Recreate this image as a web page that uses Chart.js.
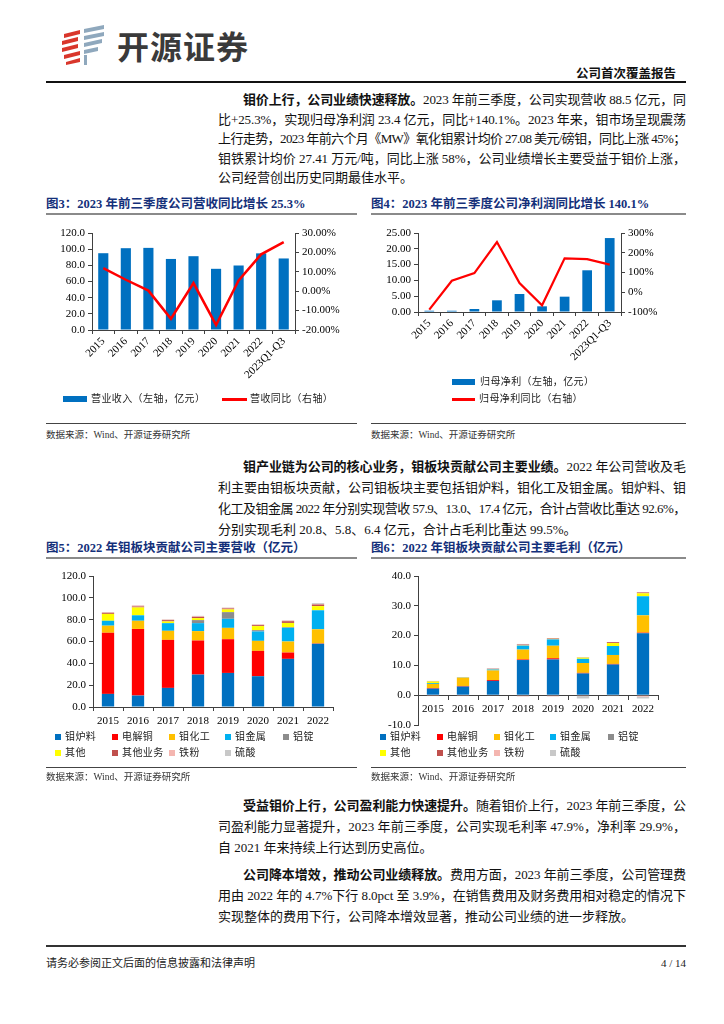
<!DOCTYPE html>
<html>
<head>
<meta charset="utf-8">
<script src="https://cdn.jsdelivr.net/npm/chart.js@4.4.0/dist/chart.umd.min.js"></script>
<style>
    body { margin: 0; background: #fff; }
    .page { position: relative; width: 724px; height: 1024px; overflow: hidden;
        font-family: "Liberation Serif", "Noto Sans CJK SC", serif; color: #111; }
    .abs { position: absolute; }
    .ln { position: absolute; left: 218px; width: 468px; font-size: 13px; line-height: 16px; white-space: nowrap; }
    .ln.ind { left: 243px; width: 443px; }
    .ln b { font-weight: 700; }
    .title { position: absolute; font-size: 12.5px; line-height: 16px; font-weight: 700; color: #14307a; white-space: nowrap; }
    .uline { position: absolute; height: 2px; background: #8a8a8a; }
    .sline { position: absolute; height: 1px; background: #444; }
    .src { position: absolute; font-size: 9.5px; line-height: 12px; color: #333; white-space: nowrap; }
    .leg { position: absolute; font-size: 10px; line-height: 12px; color: #222; white-space: nowrap; letter-spacing: 0.4px; }
    .sw { position: absolute; }
    canvas { position: absolute; }
</style>
</head>
<body>
<div class="page">
    <!-- logo -->
    <svg class="abs" style="left:58px;top:24px" width="56" height="42">
        <g fill="#d9362b">
            <polygon points="6,10 22,6 22,10 6,14"/>
            <polygon points="4,17 20,13 20,17 4,21"/>
            <polygon points="4,24 20,20 20,24 4,28"/>
            <polygon points="6,31 22,27 22,31 6,35"/>
            <polygon points="8,38 22,34 22,38 8,41"/>
        </g>
        <g fill="#8fa8bd">
            <polygon points="26,5 46,1 46,5 26,9"/>
            <polygon points="26,12 46,8 46,12 26,16"/>
            <polygon points="26,19 44,15 44,19 26,23"/>
            <polygon points="26,26 40,23 40,27 26,30"/>
            <polygon points="26,31 29,31 29,41 26,41"/>
        </g>
    </svg>
    <div class="abs" style="left:117px;top:26px;font-family:'Noto Sans CJK SC';font-weight:700;font-size:32px;line-height:38px;color:#3a3a3a;letter-spacing:1px">开源证券</div>

    <div class="abs" style="left:560px;width:116px;top:65px;text-align:right;font-family:'Noto Sans CJK SC';font-weight:700;font-size:12.5px;line-height:16px">公司首次覆盖报告</div>
    <div class="abs" style="left:46px;top:81px;width:640px;height:2px;background:#111"></div>

    <!-- paragraph 1 -->
    <div class="ln ind j" style="top:92px"><span><b>钼价上行，公司业绩快速释放。</b>2023 年前三季度，公司实现营收 88.5 亿元，同</span></div>
    <div class="ln j" style="top:111.5px"><span>比+25.3%，实现归母净利润 23.4 亿元，同比+140.1%。2023 年来，钼市场呈现震荡</span></div>
    <div class="ln j" style="top:131px"><span>上行走势，2023 年前六个月《MW》氧化钼累计均价 27.08 美元/磅钼，同比上涨 45%；</span></div>
    <div class="ln j" style="top:150.5px"><span>钼铁累计均价 27.41 万元/吨，同比上涨 58%，公司业绩增长主要受益于钼价上涨，</span></div>
    <div class="ln" style="top:170px"><span>公司经营创出历史同期最佳水平。</span></div>

    <!-- figure 3 / 4 -->
    <div class="title" style="left:46px;top:196px">图3：2023 年前三季度公司营收同比增长 25.3%</div>
    <div class="uline" style="left:46px;top:213px;width:311px"></div>
    <div class="title" style="left:371px;top:196px">图4：2023 年前三季度公司净利润同比增长 140.1%</div>
    <div class="uline" style="left:371px;top:213px;width:315px"></div>

    <canvas id="c3" width="311" height="175" style="left:46px;top:218px"></canvas>
    <canvas id="c4" width="315" height="155" style="left:371px;top:218px"></canvas>

    <div class="sw" style="left:63px;top:396px;width:24px;height:6px;background:#0070C0"></div>
    <div class="leg" style="left:91px;top:393px">营业收入（左轴，亿元）</div>
    <div class="sw" style="left:222px;top:398px;width:25px;height:2.5px;background:#FF0000"></div>
    <div class="leg" style="left:250px;top:393px">营收同比（右轴）</div>

    <div class="sw" style="left:452px;top:379px;width:23px;height:6px;background:#0070C0"></div>
    <div class="leg" style="left:480px;top:376px">归母净利（左轴，亿元）</div>
    <div class="sw" style="left:452px;top:398px;width:23px;height:2.5px;background:#FF0000"></div>
    <div class="leg" style="left:479px;top:393px">归母净利同比（右轴）</div>

    <div class="sline" style="left:46px;top:423px;width:311px"></div>
    <div class="sline" style="left:371px;top:423px;width:315px"></div>
    <div class="src" style="left:46px;top:429px">数据来源：Wind、开源证券研究所</div>
    <div class="src" style="left:371px;top:429px">数据来源：Wind、开源证券研究所</div>

    <!-- paragraph 2 -->
    <div class="ln ind j" style="top:459px"><span><b>钼产业链为公司的核心业务，钼板块贡献公司主要业绩。</b>2022 年公司营收及毛</span></div>
    <div class="ln j" style="top:480px"><span>利主要由钼板块贡献，公司钼板块主要包括钼炉料，钼化工及钼金属。钼炉料、钼</span></div>
    <div class="ln j" style="top:501px"><span>化工及钼金属 2022 年分别实现营收 57.9、13.0、17.4 亿元，合计占营收比重达 92.6%，</span></div>
    <div class="ln" style="top:522px"><span>分别实现毛利 20.8、5.8、6.4 亿元，合计占毛利比重达 99.5%。</span></div>

    <!-- figure 5 / 6 -->
    <div class="title" style="left:46px;top:540px">图5：2022 年钼板块贡献公司主要营收（亿元）</div>
    <div class="uline" style="left:46px;top:557px;width:311px"></div>
    <div class="title" style="left:371px;top:540px">图6：2022 年钼板块贡献公司主要毛利（亿元）</div>
    <div class="uline" style="left:371px;top:557px;width:315px"></div>

    <canvas id="c5" width="311" height="165" style="left:46px;top:565px"></canvas>
    <canvas id="c6" width="315" height="170" style="left:371px;top:565px"></canvas>
    <div id="leg5"></div>
    <div id="leg6"></div>

    <div class="sline" style="left:46px;top:767px;width:311px"></div>
    <div class="sline" style="left:371px;top:767px;width:315px"></div>
    <div class="src" style="left:46px;top:771px">数据来源：Wind、开源证券研究所</div>
    <div class="src" style="left:371px;top:771px">数据来源：Wind、开源证券研究所</div>

    <!-- paragraph 3 -->
    <div class="ln ind j" style="top:798px"><span><b>受益钼价上行，公司盈利能力快速提升。</b>随着钼价上行，2023 年前三季度，公</span></div>
    <div class="ln j" style="top:819px"><span>司盈利能力显著提升，2023 年前三季度，公司实现毛利率 47.9%，净利率 29.9%，</span></div>
    <div class="ln" style="top:840px"><span>自 2021 年来持续上行达到历史高位。</span></div>

    <!-- paragraph 4 -->
    <div class="ln ind j" style="top:867px"><span><b>公司降本增效，推动公司业绩释放。</b>费用方面，2023 年前三季度，公司管理费</span></div>
    <div class="ln j" style="top:888px"><span>用由 2022 年的 4.7%下行 8.0pct 至 3.9%，在销售费用及财务费用相对稳定的情况下</span></div>
    <div class="ln" style="top:909px"><span>实现整体的费用下行，公司降本增效显著，推动公司业绩的进一步释放。</span></div>

    <!-- footer -->
    <div class="abs" style="left:46px;top:945px;width:640px;height:2px;background:#333"></div>
    <div class="abs" style="left:46px;top:956px;font-size:11px;line-height:14px;color:#222">请务必参阅正文后面的信息披露和法律声明</div>
    <div class="abs" style="left:600px;width:86px;top:956px;font-size:11px;line-height:14px;text-align:right;color:#222">4 / 14</div>
</div>

<script>
    // figure 3 / 4
    var years = ['2015', '2016', '2017', '2018', '2019', '2020', '2021', '2022', '2023Q1-Q3'];
    var revenue = [95.0, 101.2, 101.6, 87.9, 91.3, 75.7, 79.8, 94.8, 88.5];
    var revenueYoY = [11.9, 5.9, 0.3, -14.2, 4.2, -17.4, 5.5, 19.0, 25.3];
    var netProfit = [0.4, 0.4, 0.95, 3.7, 5.7, 1.8, 4.85, 13.2, 23.4];
    var netProfitYoY = [-88, 58, 97, 254, 47, -66, 172, 168, 140.1];

    // figure 5 / 6
    var segYears = ['2015', '2016', '2017', '2018', '2019', '2020', '2021', '2022'];
    var segNames = ['钼炉料', '电解铜', '钼化工', '钼金属', '铝锭', '其他', '其他业务', '铁粉', '硫酸'];
    var segColors = ['#0070C0', '#FF0000', '#FFC000', '#00B0F0', '#8C8C8C', '#FFFF00', '#C0504D', '#F4B6B0', '#C8C8C8'];

    var revFurnace = [12.0, 10.5, 17.5, 29.7, 31.2, 28.2, 44.1, 57.9];
    var revCopper = [56.0, 61.0, 44.0, 31.2, 30.9, 23.2, 5.8, 0.3];
    var revChem = [6.5, 7.5, 8.3, 8.6, 10.4, 9.2, 10.1, 13.0];
    var revMetal = [4.5, 5.0, 7.0, 7.3, 8.3, 8.6, 12.5, 17.4];
    var revAlu = [0, 0, 0, 2.8, 6.1, 1.2, 0.6, 0];
    var revOther = [6.3, 7.2, 1.6, 1.8, 2.5, 3.7, 3.9, 3.8];
    var revOtherBiz = [1.0, 0.9, 1.2, 1.2, 0.9, 0.9, 1.6, 1.5];
    var revIron = [0.4, 0.9, 0.5, 0.6, 0.6, 0.6, 0.6, 0.5];
    var revAcid = [0.3, 0.3, 0.3, 0.3, 0.3, 0.3, 0.3, 0.8];

    var gpFurnace = [2.2, 2.9, 4.8, 11.8, 12.0, 7.3, 10.3, 20.8];
    var gpCopper = [0.2, 0.2, 0.3, 0.2, 0.4, 0.2, 0.2, 0.2];
    var gpChem = [1.4, 2.7, 3.2, 3.3, 4.2, 3.3, 3.0, 5.8];
    var gpMetal = [0.3, 0.05, 0.3, 1.3, 2.1, 1.4, 3.0, 6.4];
    var gpAlu = [0, 0, 0.1, 0.1, 0.1, 0, 0, 0];
    var gpOther = [0.5, 0.1, 0.1, 0.1, 0.1, 0.4, 1.0, 1.0];
    var gpOtherBiz = [0.1, 0.1, 0.1, 0.2, 0.2, 0.1, 0.3, 0.3];
    var gpIron = [-0.3, -0.3, -0.2, -0.4, -0.4, -0.3, -0.2, -0.5];
    var gpAcid = [0.1, 0, 0.1, 0.2, 0, -0.8, -0.1, -0.6];

    var revSeries = [revFurnace, revCopper, revChem, revMetal, revAlu, revOther, revOtherBiz, revIron, revAcid];
    var gpSeries = [gpFurnace, gpCopper, gpChem, gpMetal, gpAlu, gpOther, gpOtherBiz, gpIron, gpAcid];

    Chart.defaults.font.family = "'Liberation Serif', serif";
    Chart.defaults.font.size = 11;
    Chart.defaults.color = '#000';

    var axisColor = '#404040';

    function axis(extra) {
        var a = {
            grid: { drawOnChartArea: false, tickLength: 4, color: axisColor },
            border: { color: axisColor, width: 1 },
            ticks: { padding: 3, autoSkip: false }
        };
        for (var k in extra) {
            if (k === 'ticks') Object.assign(a.ticks, extra.ticks);
            else a[k] = extra[k];
        }
        return a;
    }

    function baseOptions(pad) {
        return {
            responsive: false,
            animation: false,
            devicePixelRatio: 1,
            layout: { padding: pad },
            plugins: { legend: { display: false }, tooltip: { enabled: false } }
        };
    }

    // fig 3
    var o3 = baseOptions({ top: 15 });
    o3.scales = {
        x: axis({ ticks: { minRotation: 45, maxRotation: 45, padding: 1 }, afterFit: function (s) { s.height = 63; } }),
        y: axis({ min: 0, max: 120, ticks: { stepSize: 20, callback: function (v) { return v.toFixed(1); } },
            afterFit: function (s) { s.width = 46; } }),
        y1: axis({ position: 'right', min: -20, max: 30, ticks: { stepSize: 10, callback: function (v) { return v.toFixed(2) + '%'; } },
            afterFit: function (s) { s.width = 62; } })
    };
    new Chart(document.getElementById('c3'), {
        type: 'bar',
        data: {
            labels: years,
            datasets: [
                { type: 'line', data: revenueYoY, yAxisID: 'y1', borderColor: '#FF0000', borderWidth: 2.5,
                    pointRadius: 0, tension: 0, order: 0 },
                { type: 'bar', data: revenue, yAxisID: 'y', backgroundColor: '#0070C0',
                    barPercentage: 0.45, categoryPercentage: 1, order: 1 }
            ]
        },
        options: o3
    });

    // fig 4
    var o4 = baseOptions({ top: 15 });
    o4.scales = {
        x: axis({ ticks: { minRotation: 45, maxRotation: 45, padding: 1 }, afterFit: function (s) { s.height = 61; } }),
        y: axis({ min: 0, max: 25, ticks: { stepSize: 5, callback: function (v) { return v.toFixed(2); } },
            afterFit: function (s) { s.width = 47; } }),
        y1: axis({ position: 'right', min: -100, max: 300, ticks: { stepSize: 100, callback: function (v) { return v + '%'; } },
            afterFit: function (s) { s.width = 65; } })
    };
    new Chart(document.getElementById('c4'), {
        type: 'bar',
        data: {
            labels: years,
            datasets: [
                { type: 'line', data: netProfitYoY, yAxisID: 'y1', borderColor: '#FF0000', borderWidth: 2.2,
                    pointRadius: 0, tension: 0, order: 0 },
                { type: 'bar', data: netProfit, yAxisID: 'y', backgroundColor: '#0070C0',
                    barPercentage: 0.43, categoryPercentage: 1, order: 1 }
            ]
        },
        options: o4
    });

    function stackSets(series) {
        return series.map(function (d, i) {
            return { label: segNames[i], data: d, backgroundColor: segColors[i],
                barPercentage: 0.41, categoryPercentage: 1 };
        });
    }

    // fig 5
    var o5 = baseOptions({ top: 11, right: 24 });
    o5.scales = {
        x: axis({ stacked: true, ticks: { padding: 4 }, afterFit: function (s) { s.height = 23; } }),
        y: axis({ stacked: true, min: 0, max: 120, ticks: { stepSize: 20, callback: function (v) { return v.toFixed(1); } },
            afterFit: function (s) { s.width = 47; } })
    };
    new Chart(document.getElementById('c5'), {
        type: 'bar',
        data: { labels: segYears, datasets: stackSets(revSeries) },
        options: o5
    });

    // fig 6
    var o6 = baseOptions({ top: 11, right: 28, bottom: 10 });
    o6.scales = {
        x: axis({ stacked: true, position: { y: 0 }, ticks: { padding: 3 } }),
        y: axis({ stacked: true, min: -10, max: 40, ticks: { stepSize: 10, callback: function (v) { return v.toFixed(1); } },
            afterFit: function (s) { s.width = 47; } })
    };
    new Chart(document.getElementById('c6'), {
        type: 'bar',
        data: { labels: segYears, datasets: stackSets(gpSeries) },
        options: o6
    });

    // html legends for fig 5 / 6
    function buildLegend(id, left0) {
        var cols = [0, 57, 114, 170, 228];
        var rows = [731, 747];
        var box = document.getElementById(id);
        segNames.forEach(function (name, i) {
            var c = i % 5, r = Math.floor(i / 5);
            var sq = document.createElement('div');
            sq.className = 'sw';
            sq.style.cssText = 'left:' + (left0 + cols[c]) + 'px;top:' + (rows[r] + 3) + 'px;width:6px;height:6px;background:' + segColors[i];
            box.appendChild(sq);
            var t = document.createElement('div');
            t.className = 'leg';
            t.style.cssText = 'left:' + (left0 + cols[c] + 10) + 'px;top:' + rows[r] + 'px';
            t.textContent = name;
            box.appendChild(t);
        });
    }
    buildLegend('leg5', 55);
    buildLegend('leg6', 380);

    // justify each text line to the column width
    function fitLines() {
        document.querySelectorAll('.ln.j').forEach(function (el) {
            var span = el.firstElementChild;
            span.style.letterSpacing = '0px';
            var natural = span.getBoundingClientRect().width;
            var n = span.textContent.length;
            var ls = (el.clientWidth - natural) / (n - 0.5);
            span.style.letterSpacing = ls + 'px';
        });
    }
    fitLines();
    if (document.fonts && document.fonts.ready) document.fonts.ready.then(fitLines);
</script>
</body>
</html>
